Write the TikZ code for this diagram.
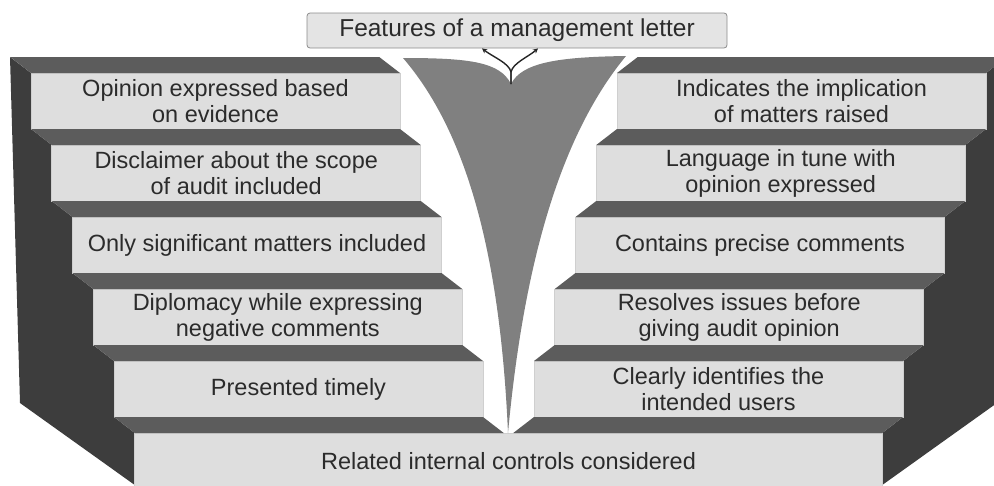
\documentclass[tikz,border=0pt]{standalone}
\usepackage{fontspec}
\setmainfont{Liberation Sans}
\usetikzlibrary{arrows.meta}
\definecolor{face}{HTML}{DEDEDE}
\definecolor{facedraw}{HTML}{CFCFCF}
\definecolor{tread}{HTML}{5C5C5C}
\definecolor{wall}{HTML}{3D3D3D}
\definecolor{funnel}{HTML}{808080}
\definecolor{ink}{HTML}{2B2B2B}
\definecolor{titlefill}{HTML}{E4E4E4}
\definecolor{titledraw}{HTML}{8C8C8C}
\begin{document}
\begin{tikzpicture}[x=1pt,y=1pt,
  stepbox/.style={fill=face, draw=facedraw, line width=0.6pt, minimum width=369pt,
    minimum height=56pt, inner sep=0pt, outer sep=0pt, align=center, text=ink,
    font=\fontsize{23.5}{26}\selectfont},
  basebox/.style={stepbox, minimum width=747.5pt},
  titlebox/.style={fill=titlefill, draw=titledraw, line width=0.8pt, rounded corners=3pt,
    minimum width=420pt, minimum height=35pt, inner sep=0pt, text=ink,
    font=\fontsize{24.5}{27}\selectfont},
  treadfill/.style={fill=tread},
  wallfill/.style={fill=wall},
  funnelfill/.style={fill=funnel},
  arr/.style={draw=black!85, line width=1.4pt, -{Stealth[length=5pt,width=5pt]}}]
\clip (0,0) rectangle (994,-485);
% side walls
\fill[wallfill] (10,-57) -- (20,-403) -- (134.75,-485) -- (134.75,-433) -- (114,-417) -- (114,-361)
  -- (93.25,-345) -- (93.25,-289) -- (72.5,-273) -- (72.5,-217) -- (51.75,-201) -- (51.75,-145)
  -- (31,-129) -- (31,-73) -- cycle;
\fill[wallfill] (1007,-57) -- (997,-403) -- (882.25,-485) -- (882.25,-433) -- (903,-417) -- (903,-361)
  -- (923.75,-345) -- (923.75,-289) -- (944.5,-273) -- (944.5,-217) -- (965.25,-201) -- (965.25,-145)
  -- (986,-129) -- (986,-73) -- cycle;
% left steps
\node[stepbox] (l1) at (215.5,-101) {Opinion expressed based\\on evidence};
\node[stepbox] (l2) at (236.25,-173) {Disclaimer about the scope\\of audit included};
\node[stepbox] (l3) at (257,-245) {Only significant matters included};
\node[stepbox] (l4) at (277.75,-317) {Diplomacy while expressing\\negative comments};
\node[stepbox] (l5) at (298.5,-389) {Presented timely};
% right steps
\node[stepbox] (r1) at (801.5,-101) {Indicates the implication\\of matters raised};
\node[stepbox] (r2) at (780.75,-173) {Language in tune with\\opinion expressed};
\node[stepbox] (r3) at (760,-245) {Contains precise comments};
\node[stepbox] (r4) at (739.25,-317) {Resolves issues before\\giving audit opinion};
\node[stepbox] (r5) at (718.5,-389) {Clearly identifies the\\intended users};
% base
\node[basebox] (base) at (508.5,-461) {Related internal controls considered};
% treads
\foreach \b in {l1,l2,l3,l4,l5}{
  \fill[treadfill] (\b.north west) -- ++(-20.75,16) -- ++(369,0) -- (\b.north east) -- cycle;
}
\foreach \b in {r1,r2,r3,r4,r5}{
  \fill[treadfill] (\b.north west) -- ++(20.75,16) -- ++(369,0) -- (\b.north east) -- cycle;
}
\fill[treadfill] (base.north west) -- ++(-20.75,16) -- ++(369,0) -- ++(20.75,-16) -- cycle;
\fill[treadfill] (base.north east) -- ++(20.75,16) -- ++(-369,0) -- ++(-20.75,-16) -- cycle;
% funnel
\coordinate (notch) at (511,-84);
\coordinate (tip) at (508,-433);
\fill[funnelfill] (403,-58) .. controls (470,-58) and (500,-62) .. (notch)
  .. controls (522,-62) and (560,-57) .. (626,-56)
  .. controls (565,-130) and (525,-250) .. (tip)
  .. controls (500,-250) and (465,-130) .. (403,-58) -- cycle;
% title
\node[titlebox] (title) at (517,-30.5) {Features of a management letter};
% arrows
\draw[arr] (notch) -- (511,-72) .. controls (509,-63) and (493,-57) .. ([xshift=-35pt]title.south);
\draw[arr] (notch) -- (511,-72) .. controls (513,-63) and (528,-57) .. ([xshift=21pt]title.south);
\end{tikzpicture}
\end{document}
